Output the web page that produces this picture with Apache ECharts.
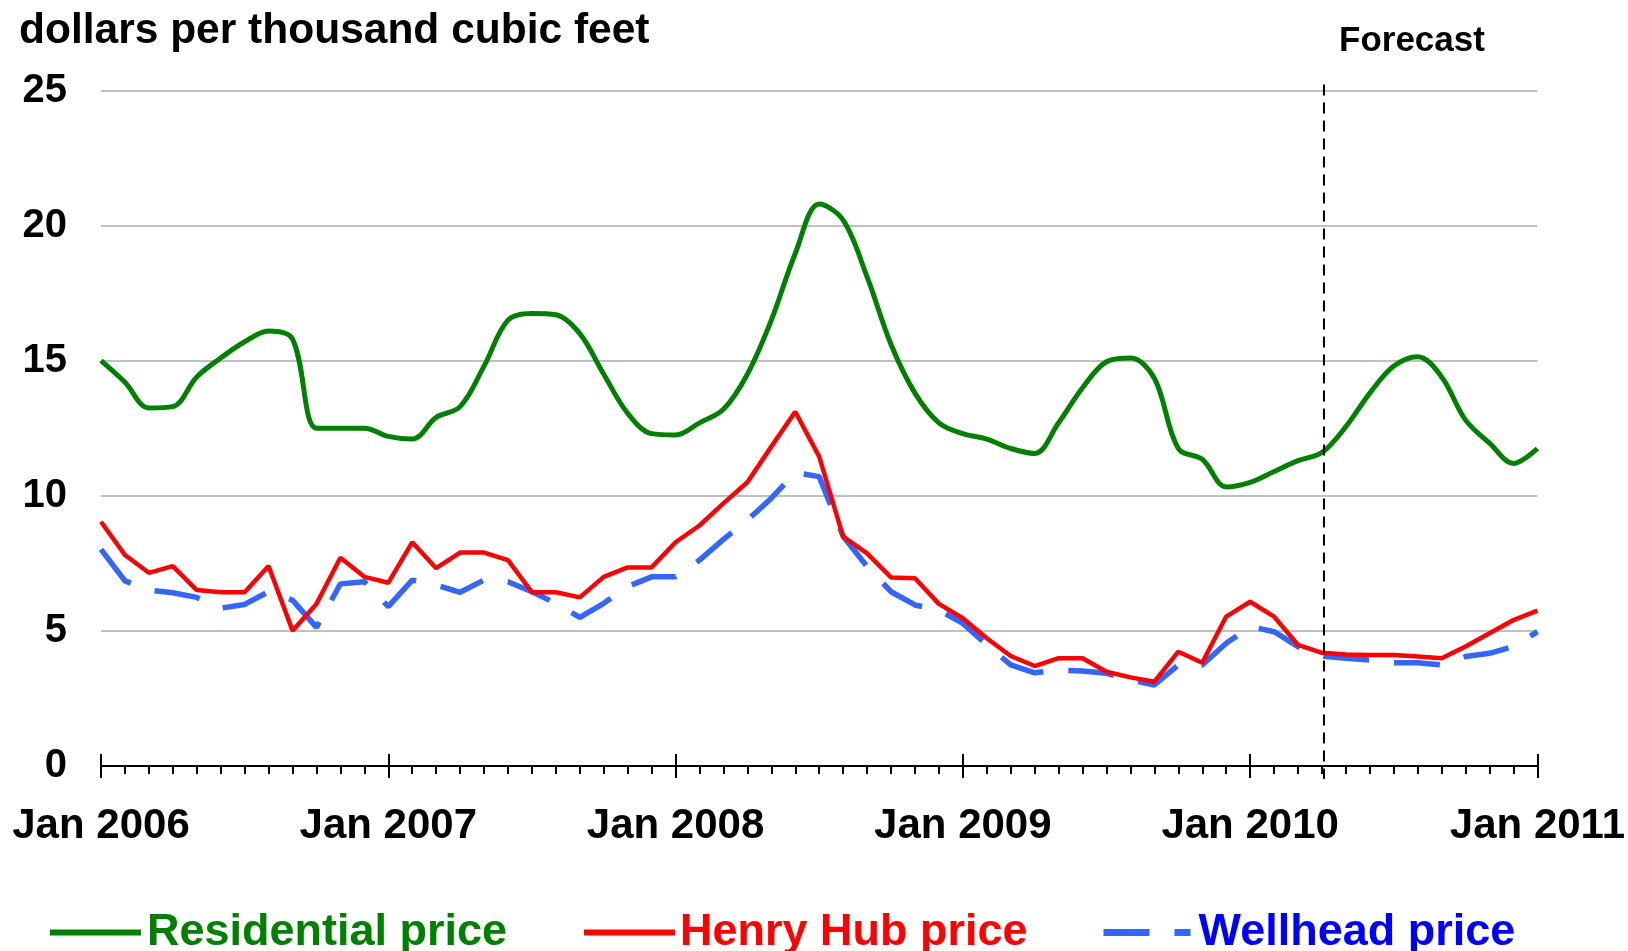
<!DOCTYPE html>
<html><head><meta charset="utf-8">
<script src="https://cdn.jsdelivr.net/npm/echarts/dist/echarts.min.js"></script>
<style>html,body{margin:0;padding:0;background:#fff}#chart{width:1628px;height:951px}</style>
</head><body><div id="chart"></div>
<script>
const monthNames = ['Jan','Feb','Mar','Apr','May','Jun','Jul','Aug','Sep','Oct','Nov','Dec'];
const years = [2006, 2007, 2008, 2009, 2010, 2011];
const categories = [];
years.forEach(function (y) {
  monthNames.forEach(function (m) {
    if (y < 2011 || m === 'Jan') categories.push(m + ' ' + y);
  });
});
const yTicks = [0, 5, 10, 15, 20, 25];
const forecastStart = 'Apr 2010';

const residential = [15.0, 14.2, 13.25, 13.3, 14.4, 15.1, 15.7, 16.1, 15.8, 12.5,
  12.5, 12.5, 12.2, 12.1, 12.9, 13.3, 14.8, 16.5, 16.75, 16.7,
  16.0, 14.5, 13.05, 12.3, 12.25, 12.7, 13.2, 14.5, 16.5, 18.97,
  20.8, 20.2, 18.1, 15.6, 13.8, 12.7, 12.3, 12.1, 11.75, 11.57,
  12.7, 14.0, 14.96, 15.1, 14.35, 11.75, 11.35, 10.33, 10.5, 10.9,
  11.3, 11.6, 12.56, 13.8, 14.8, 15.15, 14.4, 12.8, 11.95, 11.2, 11.75];
const henryHub = [9.04, 7.81, 7.15, 7.4, 6.51, 6.43, 6.43, 7.4, 5.01, 6.0,
  7.71, 7.0, 6.78, 8.28, 7.32, 7.9, 7.9, 7.62, 6.43, 6.43,
  6.24, 7.0, 7.35, 7.35, 8.28, 8.9, 9.72, 10.5, 11.82, 13.11,
  11.45, 8.49, 7.87, 6.98, 6.95, 6.0, 5.47, 4.73, 4.07, 3.7,
  3.99, 3.99, 3.49, 3.28, 3.12, 4.23, 3.82, 5.53, 6.08, 5.53,
  4.48, 4.19, 4.13, 4.11, 4.11, 4.05, 3.99, 4.42, 4.91, 5.4, 5.75];
const wellhead = [8.02, 6.85, 6.51, 6.41, 6.24, 5.84, 5.98, 6.45, 6.14, 5.13,
  6.74, 6.82, 5.9, 6.88, 6.7, 6.43, 6.88, 6.82, 6.45, 6.02,
  5.5, 6.02, 6.64, 7.0, 7.0, 7.62, 8.39, 9.1, 9.91, 10.86,
  10.71, 8.5, 7.38, 6.45, 5.96, 5.77, 5.28, 4.48, 3.74, 3.45,
  3.55, 3.52, 3.43, 3.18, 3.0, 3.74, 3.74, 4.54, 5.16, 4.97,
  4.42, 4.07, 3.99, 3.92, 3.82, 3.82, 3.74, 4.05, 4.17, 4.42, 4.97];

const FONT = '"Liberation Sans", Arial, sans-serif';
const chart = echarts.init(document.getElementById('chart'), null, { renderer: 'canvas' });

function tickAxis(inside, len, interval) {
  return {
    type: 'category', data: categories, boundaryGap: false, position: 'bottom',
    axisLine: { show: false },
    axisTick: { show: true, inside: inside, length: len, interval: interval, lineStyle: { color: '#000', width: 2 } },
    axisLabel: { show: false }, splitLine: { show: false }
  };
}

function legendItem(left, name, color, width, pad, dash) {
  return {
    left: left, top: 910, padding: 0, itemWidth: width, itemHeight: 30,
    lineStyle: dash ? { width: 7, type: dash } : { width: 6 },
    itemStyle: { opacity: 0 },
    data: [{ name: name, textStyle: { color: color } }],
    textStyle: { fontFamily: FONT, fontWeight: 'bold', fontSize: 45, lineHeight: 30, padding: [2, 0, 0, pad] }
  };
}

chart.setOption({
  backgroundColor: '#fff',
  animation: false,
  title: [
    { text: 'dollars per thousand cubic feet', left: 19, top: 10, padding: 0,
      textStyle: { fontFamily: FONT, fontWeight: 'bold', fontSize: 42.5, color: '#000' } },
    { text: 'Forecast', left: 1339, top: 24, padding: 0,
      textStyle: { fontFamily: FONT, fontWeight: 'bold', fontSize: 35, color: '#000' } }
  ],
  grid: { left: 101, right: 87, top: 90.5, bottom: 185, containLabel: false },
  legend: [
    legendItem(47, 'Residential price', '#008000', 91, 1, null),
    legendItem(581, 'Henry Hub price', '#FF0000', 91, 0, null),
    legendItem(1100, 'Wellhead price', '#0000FF', 87, 3, [46, 25])
  ],
  xAxis: [
    {
      type: 'category', data: categories, boundaryGap: false, position: 'bottom',
      axisLine: { show: true, onZero: false, lineStyle: { color: '#000', width: 2 } },
      axisTick: { show: true, interval: 0, length: 8, lineStyle: { color: '#000', width: 2 } },
      axisLabel: { show: true, interval: 11, margin: 39, color: '#000',
        fontFamily: FONT, fontWeight: 'bold', fontSize: 42 },
      splitLine: { show: false }
    },
    tickAxis(false, 12, 11),
    tickAxis(true, 12, 11)
  ],
  yAxis: {
    type: 'value', min: yTicks[0], max: yTicks[yTicks.length - 1], interval: 5,
    axisLine: { show: false }, axisTick: { show: false },
    axisLabel: { margin: 34, color: '#000', fontFamily: FONT, fontWeight: 'bold', fontSize: 40, padding: [6, 0, 0, 0] },
    splitLine: { show: true, lineStyle: { color: '#C0C0C0', width: 2 } }
  },
  series: [
    {
      name: 'Wellhead price', type: 'line', data: wellhead, symbol: 'none',
      lineStyle: { color: '#3366FF', width: 5.5, type: [46, 25] }, itemStyle: { color: '#3366FF' }, z: 2
    },
    {
      name: 'Henry Hub price', type: 'line', data: henryHub, symbol: 'none',
      lineStyle: { color: '#FF0000', width: 4.5 }, itemStyle: { color: '#FF0000' }, z: 3
    },
    {
      name: 'Residential price', type: 'line', data: residential, symbol: 'none', smooth: 0.35,
      lineStyle: { color: '#008000', width: 5 }, itemStyle: { color: '#008000' }, z: 4
    }
  ]
});

// Forecast divider: positioned through the chart's own scales
const fx = chart.convertToPixel({ xAxisIndex: 0 }, forecastStart);
const fyTop = chart.convertToPixel({ yAxisIndex: 0 }, yTicks[yTicks.length - 1]);
const fyBottom = chart.convertToPixel({ yAxisIndex: 0 }, yTicks[0]);
chart.setOption({
  graphic: [{
    type: 'line', silent: true, z: 10,
    shape: { x1: fx + 2, y1: fyTop - 6, x2: fx + 2, y2: fyBottom + 13 },
    style: { stroke: '#000', lineWidth: 2, lineDash: [11, 7] }
  }]
});
</script>
</body></html>
